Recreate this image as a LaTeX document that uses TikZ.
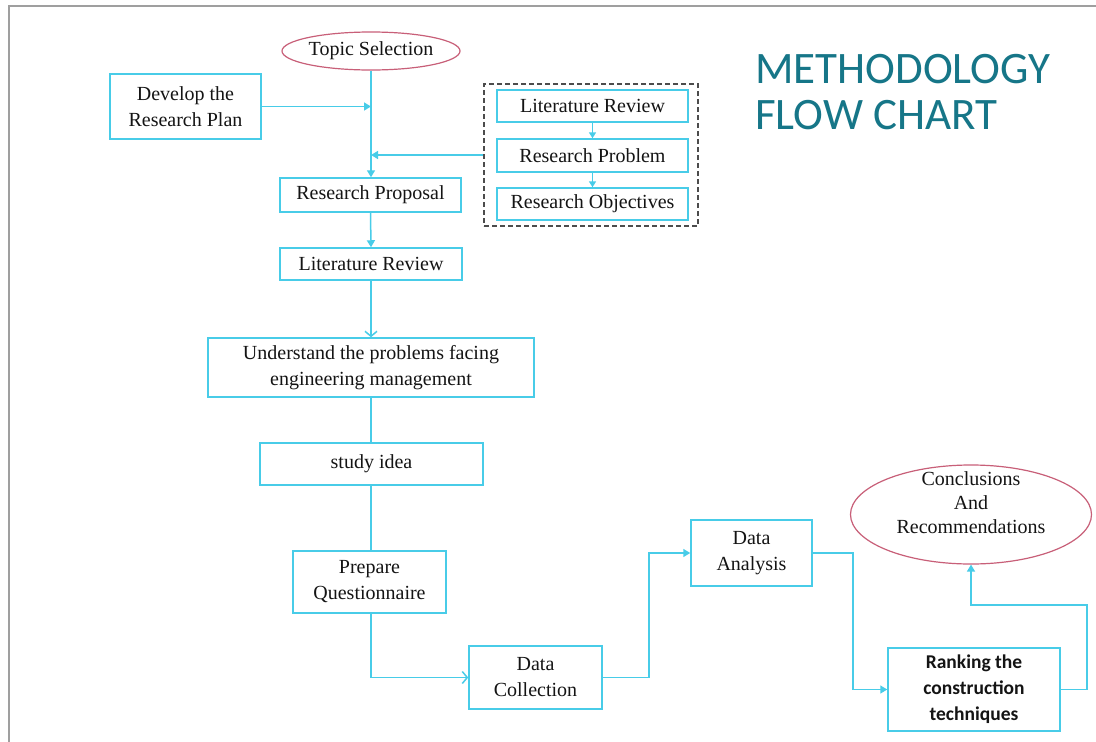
\documentclass[tikz,border=0pt]{standalone}
\usepackage{fontspec}
\setmainfont{Liberation Serif}
\newfontfamily\calibri{Carlito}
\usetikzlibrary{arrows.meta,shapes.geometric}
\definecolor{cy}{RGB}{72,204,232}
\definecolor{rosy}{RGB}{200,95,120}
\definecolor{titleteal}{RGB}{22,118,136}
\definecolor{ink}{RGB}{20,20,20}
\begin{document}
\begin{tikzpicture}[x=1pt,y=-1pt,
  box/.style={draw=cy, line width=1.5pt, inner sep=0pt, align=center, text=ink,
    font=\fontsize{20}{26}\selectfont},
  oval/.style={ellipse, draw=rosy, line width=1.2pt, inner sep=0pt, align=center, text=ink,
    font=\fontsize{20}{24}\selectfont},
  conn/.style={draw=cy, line width=1.5pt},
  tip/.style={conn, -{Triangle[length=7pt,width=8pt]}},
  otip/.style={conn, -{Straight Barb[length=5pt,width=12pt]}}]
\useasboundingbox (0,0) rectangle (1096,742);
\fill[white] (0,0) rectangle (1096,742);
\draw[gray!75, line width=2pt] (9,742) -- (9,6) -- (1096,6);

% title
\node[anchor=west, text=titleteal, align=left, inner sep=0pt,
  font=\calibri\fontsize{45}{46}\selectfont] (title) at (755,92) {METHODOLOGY\\FLOW CHART};

% nodes
\node[oval, minimum width=178pt, minimum height=38pt] (top) at (371,51) {Topic Selection};
\node[box, minimum width=151pt, minimum height=65pt] (plan) at (185.5,106.5) {Develop the\\Research Plan};
\node[draw=gray!60!black, dash pattern=on 5pt off 3pt, line width=1.1pt, minimum width=214pt, minimum height=142pt, inner sep=0pt] (dash) at (591,155) {};
\node[box, minimum width=191pt, minimum height=32pt] (lr1) at (592.5,106) {Literature Review};
\node[box, minimum width=191pt, minimum height=33pt] (rp1) at (592.5,155.5) {Research Problem};
\node[box, minimum width=191pt, minimum height=32pt] (ro) at (592.5,204) {Research Objectives};
\node[box, minimum width=181pt, minimum height=34pt] (prop) at (370.5,195) {Research Proposal};
\node[box, minimum width=182pt, minimum height=32pt] (lr) at (371,264) {Literature Review};
\node[box, minimum width=326pt, minimum height=59pt] (und) at (371,367.5) {Understand the problems facing\\engineering management};
\node[box, minimum width=223pt, minimum height=42pt] (idea) at (371.5,464) {study idea};
\node[box, minimum width=153pt, minimum height=62pt] (prep) at (369.5,582) {Prepare\\Questionnaire};
\node[box, minimum width=133pt, minimum height=63pt] (dcol) at (535.5,677.5) {Data\\Collection};
\node[box, minimum width=121pt, minimum height=66pt] (dana) at (751.5,553) {Data\\Analysis};
\node[box, minimum width=172pt, minimum height=83pt, font=\calibri\bfseries\fontsize{19.5}{26}\selectfont] (rank) at (974,689.5) {Ranking the\\construction\\techniques};
\node[oval, minimum width=241pt, minimum height=99pt,
  label={[align=center, text=ink, font=\fontsize{20}{24}\selectfont, yshift=12pt]center:{Conclusions\\And\\Recommendations}}] (concl) at (971,514.5) {};

% connectors
\coordinate (jv) at (top.south |- prop.north);
\draw[tip] (top.south) -- (jv);
\draw[tip] (plan.east) -- (top.south |- plan.east);
\draw[tip] (dash.west) -- (top.south |- dash.west);
\draw[conn, -{Triangle[length=6pt,width=7pt]}] (lr1.south) -- (rp1.north);
\draw[conn, -{Triangle[length=6pt,width=7pt]}] (rp1.south) -- (ro.north);
\draw[tip] (prop.south) -- (lr.north);
\draw[otip] (lr.south) -- (und.north);
\draw[conn] (und.south) -- (und.south |- idea.north);
\draw[conn] (und.south |- idea.south) -- (und.south |- prep.north);
\draw[otip] (und.south |- prep.south) |- (dcol.west);
\draw[tip] (dcol.east) -- ++(46,0) |- (dana.west);
\draw[tip] (dana.east) -- ++(40,0) |- (rank.west);
\draw[tip] (rank.east) -- ++(26,0) -- ++(0,-84.5) -| (concl.south);
\end{tikzpicture}
\end{document}
